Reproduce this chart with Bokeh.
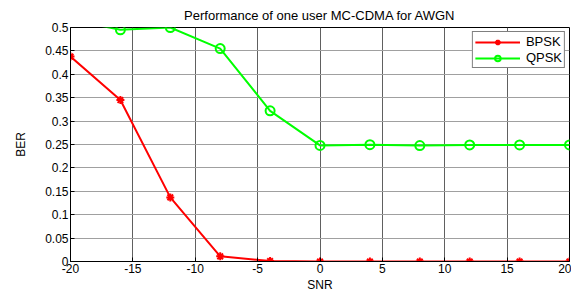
from bokeh.plotting import figure
from bokeh.embed import file_html
from bokeh.resources import INLINE
from bokeh.models import FixedTicker, CustomJSTickFormatter, Range1d, Title

snr = [-20, -16, -12, -8, -4, 0, 4, 8, 12, 16, 20]
ber_bpsk = [0.438, 0.345, 0.137, 0.011, 0.001, 0.0, 0.0, 0.0, 0.0, 0.0, 0.0]
ber_qpsk = [0.517, 0.495, 0.500, 0.455, 0.322, 0.248, 0.2495, 0.2478, 0.249, 0.249, 0.249]
x_ticks = [-20, -15, -10, -5, 0, 5, 10, 15, 20]
y_ticks = [0, 0.05, 0.1, 0.15, 0.2, 0.25, 0.3, 0.35, 0.4, 0.45, 0.5]

FONT = "Liberation Sans"

p = figure(width=571, height=291, output_backend="svg", toolbar_location=None,
           x_range=Range1d(-20, 20), y_range=Range1d(0, 0.5),
           title="Performance of one user MC-CDMA for AWGN",
           min_border_left=70, min_border_right=2, min_border_top=0, min_border_bottom=0)

p.title.align = "center"
p.title.text_font = FONT
p.title.text_font_size = "13px"
p.title.text_font_style = "normal"
p.title.text_color = "black"
p.title.offset = 0
p.title.standoff = 10

p.outline_line_color = "black"
p.outline_line_width = 1
p.background_fill_color = "white"

p.xaxis.ticker = FixedTicker(ticks=x_ticks)
p.yaxis.ticker = FixedTicker(ticks=y_ticks)
p.yaxis.formatter = CustomJSTickFormatter(code="return String(parseFloat(tick.toFixed(2)));")
p.xaxis.formatter = CustomJSTickFormatter(code="return String(Math.round(tick));")

for ax in (p.xaxis, p.yaxis):
    ax.axis_line_color = "black"
    ax.major_tick_line_color = "black"
    ax.major_tick_in = 4
    ax.major_tick_out = 0
    ax.minor_tick_line_color = None
    ax.major_label_text_font = FONT
    ax.major_label_text_font_size = "12px"
    ax.major_label_text_color = "black"
    ax.axis_label_text_font = FONT
    ax.axis_label_text_font_size = "12px"
    ax.axis_label_text_font_style = "normal"
    ax.axis_label_text_color = "black"
    ax.major_label_standoff = 2
    ax.axis_label_standoff = 0

p.yaxis.axis_label = "BER"
p.yaxis.axis_label_standoff = 14

xlabel = Title(text="SNR", align="center", text_font=FONT, text_font_size="12px",
               text_font_style="normal", text_color="black", offset=0, standoff=0)
p.add_layout(xlabel, "below")

p.xgrid.grid_line_color = "#606060"
p.ygrid.grid_line_color = "#a0a0a0"
p.xgrid.grid_line_width = 1
p.ygrid.grid_line_width = 1

p.line(snr, ber_bpsk, line_color="#ff0000", line_width=2, legend_label="BPSK")
p.scatter(snr, ber_bpsk, marker="asterisk", size=8, line_color="#ff0000", line_width=2,
          legend_label="BPSK")
p.line(snr, ber_qpsk, line_color="#00ff00", line_width=2, legend_label="QPSK")
p.scatter(snr, ber_qpsk, marker="circle", size=9, line_color="#00ff00", fill_color=None,
          line_width=2, legend_label="QPSK")

lg = p.legend[0]
lg.location = "top_right"
lg.border_line_color = "black"
lg.border_line_width = 1
lg.background_fill_color = "white"
lg.background_fill_alpha = 1
lg.label_text_font = FONT
lg.label_text_font_size = "13px"
lg.label_text_color = "black"
lg.glyph_width = 45
lg.glyph_height = 14
lg.label_height = 14
lg.spacing = 1
lg.padding = 2
lg.margin = 4
lg.label_standoff = 6

open("out.html", "w").write(file_html(p, INLINE))
